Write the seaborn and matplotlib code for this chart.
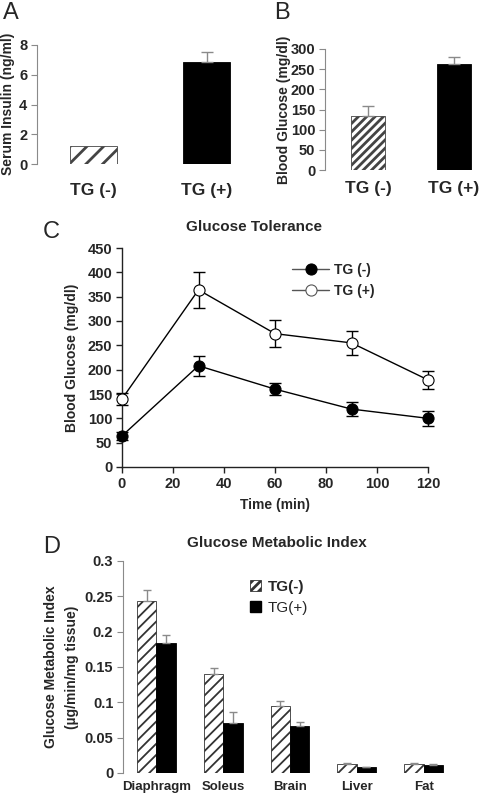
import matplotlib
matplotlib.use("Agg")
import numpy as np
import pandas as pd
import seaborn as sns
import matplotlib.pyplot as plt
from matplotlib.patches import Patch

# ---------------- data ----------------
groups_ab = ["TG (-)", "TG (+)"]
insulin = [1.2, 6.85]
insulin_err = [0.0, 0.7]
glucose = [134, 262]
glucose_err = [24, 19]

time_min = [0, 30, 60, 90, 120]
gtt_neg = [64, 208, 160, 119, 100]
gtt_neg_err = [8, 21, 12, 15, 15]
gtt_pos = [140, 364, 274, 255, 179]
gtt_pos_err = [13, 37, 28, 24, 19]

tissues = ["Diaphragm", "Soleus", "Brain", "Liver", "Fat"]
gmi_neg = [0.2435, 0.1396, 0.0945, 0.0127, 0.0127]
gmi_neg_err = [0.016, 0.009, 0.007, 0.002, 0.002]
gmi_pos = [0.184, 0.071, 0.0672, 0.008, 0.0118]
gmi_pos_err = [0.0106, 0.015, 0.005, 0.0006, 0.0006]
geno_d = ["TG(-)", "TG(+)"]

# ---------------- style ----------------
sns.set_theme(style="white")
plt.rcParams["font.family"] = ["Liberation Sans", "DejaVu Sans"]
plt.rcParams["hatch.linewidth"] = 2.0

W, H = 504, 798
fig = plt.figure(figsize=(W / 100, H / 100), dpi=100)


def ax_px(left, top, right, bottom):
    return fig.add_axes([left / W, 1 - bottom / H, (right - left) / W, (bottom - top) / H])


def fig_text(x, y, s, **kw):
    return fig.text(x / W, 1 - y / H, s, **kw)


def bold_ticks(ax, size):
    for lab in ax.get_xticklabels() + ax.get_yticklabels():
        lab.set_fontweight("bold")
        lab.set_fontsize(size)


GRAY = "#8a8a8a"

# ---------------- panel A ----------------
axA = ax_px(37, 45, 263, 164)
dfA = pd.DataFrame({"group": groups_ab, "value": insulin})
sns.barplot(data=dfA, x="group", y="value", ax=axA, width=0.41, errorbar=None,
            color="black", saturation=1, edgecolor="black", linewidth=0.6)
pA = axA.patches[0]
pA.set_facecolor("white")
pA.set_edgecolor("#444444")
pA.set_hatch("//")
xA = [p.get_x() + p.get_width() / 2 for p in axA.patches[:2]]
axA.errorbar(xA[1:], insulin[1:], yerr=[[0], insulin_err[1:]], fmt="none",
             ecolor=GRAY, elinewidth=1, capsize=4, capthick=1)
axA.set_xlim(-0.5, 1.5)
axA.set_ylim(0, 8)
axA.set_yticks([0, 2, 4, 6, 8])
axA.set_xlabel("")
axA.set_ylabel("")
for s in ["top", "right", "bottom"]:
    axA.spines[s].set_visible(False)
axA.spines["left"].set_color(GRAY)
axA.spines["left"].set_linewidth(0.8)
axA.tick_params(axis="y", left=True, length=4, width=0.8, color=GRAY, pad=3)
axA.tick_params(axis="x", bottom=False, length=0, pad=14)
bold_ticks(axA, 10.5)
for lab in axA.get_xticklabels():
    lab.set_fontsize(12.5)

# ---------------- panel B ----------------
axB = ax_px(325, 49, 497, 170)
dfB = pd.DataFrame({"group": groups_ab, "value": glucose})
sns.barplot(data=dfB, x="group", y="value", ax=axB, width=0.4, errorbar=None,
            color="black", saturation=1, edgecolor="black", linewidth=0.6)
pB = axB.patches[0]
pB.set_facecolor("white")
pB.set_edgecolor("#444444")
pB.set_hatch("////")
xB = [p.get_x() + p.get_width() / 2 for p in axB.patches[:2]]
axB.errorbar(xB, glucose, yerr=[[0, 0], glucose_err], fmt="none",
             ecolor=GRAY, elinewidth=1, capsize=4, capthick=1)
axB.set_xlim(-0.5, 1.5)
axB.set_ylim(0, 300)
axB.set_yticks([0, 50, 100, 150, 200, 250, 300])
axB.set_xlabel("")
axB.set_ylabel("")
for s in ["top", "right", "bottom"]:
    axB.spines[s].set_visible(False)
axB.spines["left"].set_color(GRAY)
axB.spines["left"].set_linewidth(0.8)
axB.tick_params(axis="y", left=True, length=4, width=0.8, color=GRAY, pad=3)
axB.tick_params(axis="x", bottom=False, length=0, pad=8)
bold_ticks(axB, 10.5)
for lab in axB.get_xticklabels():
    lab.set_fontsize(12.5)

# ---------------- panel C ----------------
axC = ax_px(122, 248, 428, 467)
axC.errorbar(time_min, gtt_neg, yerr=gtt_neg_err, fmt="none", ecolor="black",
             elinewidth=1, capsize=4, capthick=1, zorder=2, clip_on=False)
axC.errorbar(time_min, gtt_pos, yerr=gtt_pos_err, fmt="none", ecolor="black",
             elinewidth=1, capsize=4, capthick=1, zorder=2, clip_on=False)
sns.lineplot(x=time_min, y=gtt_neg, ax=axC, color="black", linewidth=1,
             marker="o", markersize=8, markerfacecolor="black",
             markeredgecolor="black", label="TG (-)", zorder=3, clip_on=False)
sns.lineplot(x=time_min, y=gtt_pos, ax=axC, color="black", linewidth=1,
             marker="o", markersize=8, markerfacecolor="white",
             markeredgecolor="black", markeredgewidth=0.8, label="TG (+)",
             zorder=3, clip_on=False)
axC.set_xlim(0, 120)
axC.set_ylim(0, 450)
axC.set_xticks([0, 20, 40, 60, 80, 100, 120])
axC.set_yticks([0, 50, 100, 150, 200, 250, 300, 350, 400, 450])
axC.set_xlabel("")
axC.set_ylabel("")
for s in ["top", "right"]:
    axC.spines[s].set_visible(False)
for s in ["left", "bottom"]:
    axC.spines[s].set_color("#222222")
    axC.spines[s].set_linewidth(1)
axC.tick_params(axis="both", left=True, bottom=True, length=4, width=1,
                color="#222222", pad=3)
bold_ticks(axC, 10.5)
legC = axC.legend(loc="upper left", bbox_to_anchor=(0.555, 0.93), frameon=False,
                  borderpad=0, borderaxespad=0, handlelength=2.7,
                  handletextpad=0.35, labelspacing=0.45,
                  prop={"weight": "bold", "size": 10})
for h in legC.legend_handles:
    h.set_color("#555555")
legC.legend_handles[0].set_markerfacecolor("black")
legC.legend_handles[0].set_markeredgecolor("black")
legC.legend_handles[1].set_markerfacecolor("white")
legC.legend_handles[1].set_markeredgecolor("#555555")

# ---------------- panel D ----------------
axD = ax_px(123, 561, 457, 773)
dfD = pd.DataFrame({
    "tissue": tissues * 2,
    "genotype": [geno_d[0]] * len(tissues) + [geno_d[1]] * len(tissues),
    "value": gmi_neg + gmi_pos,
})
sns.barplot(data=dfD, x="tissue", y="value", hue="genotype", ax=axD,
            palette={geno_d[0]: "white", geno_d[1]: "black"}, saturation=1,
            width=0.58, errorbar=None, edgecolor="black", linewidth=0.6,
            legend=False)
for bar in axD.containers[0]:
    bar.set_hatch("///")
    bar.set_edgecolor("#333333")
    if hasattr(bar, "set_hatch_linewidth"):
        bar.set_hatch_linewidth(1.3)
for cont, vals, errs in [(axD.containers[0], gmi_neg, gmi_neg_err),
                         (axD.containers[1], gmi_pos, gmi_pos_err)]:
    xs = [b.get_x() + b.get_width() / 2 for b in cont]
    axD.errorbar(xs, vals, yerr=[np.zeros(len(vals)), errs], fmt="none",
                 ecolor=GRAY, elinewidth=1, capsize=3, capthick=1, zorder=1)
axD.set_xlim(-0.5, 4.5)
axD.set_ylim(0, 0.3)
d_ticks = [0, 0.05, 0.1, 0.15, 0.2, 0.25, 0.3]
axD.set_yticks(d_ticks)
axD.set_yticklabels([f"{v:g}" for v in d_ticks])
axD.set_xlabel("")
axD.set_ylabel("")
for s in ["top", "right", "bottom"]:
    axD.spines[s].set_visible(False)
axD.spines["left"].set_color(GRAY)
axD.spines["left"].set_linewidth(0.8)
axD.tick_params(axis="y", left=True, length=4, width=0.8, color=GRAY, pad=3)
axD.tick_params(axis="x", bottom=False, length=0, pad=6)
bold_ticks(axD, 10.5)
for lab in axD.get_xticklabels():
    lab.set_fontsize(9.5)
hD = [Patch(facecolor="white", edgecolor="#333333", hatch="////", linewidth=0.6),
      Patch(facecolor="black", edgecolor="black")]
legD = axD.legend(hD, geno_d, loc="upper left", bbox_to_anchor=(0.38, 0.91),
                  frameon=False, borderpad=0, borderaxespad=0,
                  handlelength=0.75, handleheight=0.75, handletextpad=0.4,
                  labelspacing=0.45, prop={"size": 11})
legD.get_texts()[0].set_fontweight("bold")

# ---------------- labels ----------------
fig_text(3, 2, "A", fontsize=17, va="top", ha="left")
fig_text(274, 2, "B", fontsize=17, va="top", ha="left")
fig_text(43, 221, "C", fontsize=17, va="top", ha="left")
fig_text(43, 536, "D", fontsize=17, va="top", ha="left")

fig_text(8, 104, "Serum Insulin (ng/ml)", rotation=90, ha="center", va="center",
         fontsize=10, fontweight="bold")
fig_text(284, 110, "Blood Glucose (mg/dl)", rotation=90, ha="center", va="center",
         fontsize=10, fontweight="bold")
fig_text(72, 358, "Blood Glucose (mg/dl)", rotation=90, ha="center", va="center",
         fontsize=10, fontweight="bold")
fig_text(51, 667, "Glucose Metabolic Index", rotation=90, ha="center",
         va="center", fontsize=10, fontweight="bold")
fig_text(72, 667, "(µg/min/mg tissue)", rotation=90, ha="center", va="center",
         fontsize=10, fontweight="bold")

fig_text(254, 227, "Glucose Tolerance", ha="center", va="center", fontsize=11,
         fontweight="bold")
fig_text(275, 505, "Time (min)", ha="center", va="center", fontsize=10,
         fontweight="bold")
fig_text(277, 543, "Glucose Metabolic Index", ha="center", va="center",
         fontsize=11, fontweight="bold")

fig.savefig("out.png", dpi=100, facecolor="white")
